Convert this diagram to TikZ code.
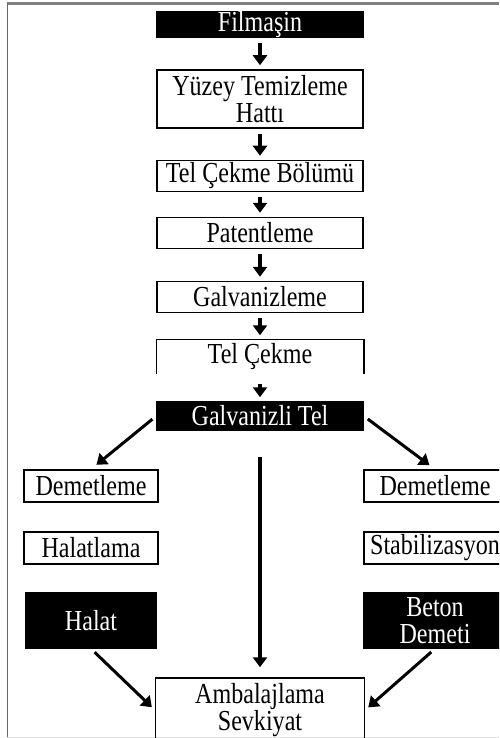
\documentclass[tikz,border=0pt]{standalone}
\usepackage{fontspec}
\setmainfont{Liberation Serif}[FakeStretch=0.83]
\usetikzlibrary{arrows.meta, positioning}

\begin{document}
\begin{tikzpicture}[x=1pt, y=-1pt,
    every node/.style={align=center, font=\fontsize{29}{27}\selectfont, inner sep=0pt},
    proc/.style={draw, line width=1.5pt, minimum width=206pt, minimum height=31pt},
    dark/.style={proc, fill=black, text=white},
    side/.style={draw, line width=1.5pt, minimum width=134pt, minimum height=32pt},
    flow/.style={-{Triangle[length=10pt, width=14pt]}, line width=3.5pt,
                 shorten <=5pt, shorten >=4pt},
    frame/.style={gray, line width=1.5pt}
]
\useasboundingbox (0,0) rectangle (499,738);
\clip (0,0) rectangle (499,738);
\draw[frame, line width=2.2pt] (7,3.5) -- (499,3.5);
\draw[frame, black!60] (7.5,3) -- (7.5,737);
\draw[frame, gray!25] (7,737.5) -- (499,737.5);

\node[dark, minimum height=25pt] (film) at (260,24.5) {Filmaşin};
\node[proc, minimum height=58pt] (yuzey) at (260,99) {Yüzey Temizleme\\Hattı};
\node[proc] (bolum) at (260,176) {Tel Çekme Bölümü};
\node[proc] (patent) at (260,233) {Patentleme};
\node[proc] (galv) at (260,297) {Galvanizleme};
\node[proc, draw=none, minimum height=33pt] (cekme) at (260,356.5) {Tel Çekme};
\draw[line width=1.5pt] (cekme.south west) -- (cekme.north west)
    -- (cekme.north east) -- (cekme.south east);
\node[dark, minimum height=28pt] (galvtel) at (260,416) {Galvanizli Tel};

\node[side] (demL) at (91,486) {Demetleme};
\node[side] (halatlama) at (91,548) {Halatlama};
\node[side, fill=black, text=white, minimum width=130pt, minimum height=55pt] (halat) at (91,620.5) {Halat};
\node[side, minimum width=142pt] (demR) at (435,486) {Demetleme};
\node[side, minimum width=142pt] (stab) at (435,548) {Stabilizasyon};
\node[side, fill=black, text=white, minimum width=142pt, minimum height=55pt] (beton) at (435,620.5) {Beton\\Demeti};
\node[proc, minimum width=209pt, minimum height=64pt] (paket) at (260,710) {Ambalajlama\\Sevkiyat};

\draw[flow] (film) -- (yuzey);
\draw[flow] (yuzey) -- (bolum);
\draw[flow] (bolum) -- (patent);
\draw[flow] (patent) -- (galv);
\draw[flow] (galv) -- (cekme);
\draw[flow, shorten <=10pt] (cekme) -- (galvtel);
\draw[flow, line width=3pt, shorten >=7pt] (galvtel.west) -- (demL.north);
\draw[flow, line width=3pt, shorten >=7pt] (galvtel.east) -- (demR.north);
\draw[flow, shorten <=26pt, shorten >=10pt] (galvtel) -- (paket);
\draw[flow, line width=3pt] (halat.south) -- (paket.west);
\draw[flow, line width=3pt] (beton.south) -- (paket.east);
\end{tikzpicture}
\end{document}
